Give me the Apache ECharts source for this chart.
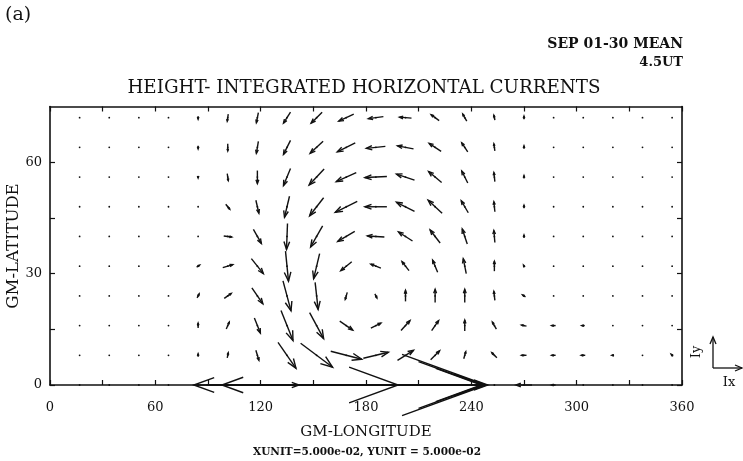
<!DOCTYPE html>
<html>
<head>
<meta charset="utf-8">
<script src="https://cdn.jsdelivr.net/npm/echarts@6/dist/echarts.min.js"></script>
<style>
html,body{margin:0;padding:0;background:#fff;}
#main{width:743px;height:461px;}
</style>
</head>
<body>
<div id="main"></div>
<script>
// ---- data ----
// grid longitudes (deg) of the vector columns
const lonCols = [16.875, 33.75, 50.625, 67.5, 84.375, 101.25, 118.125, 135, 151.875, 168.75,
  185.625, 202.5, 219.375, 236.25, 253.125, 270, 286.875, 303.75, 320.625, 337.5, 354.375];
// grid latitudes (deg) of the vector rows
const latRows = [0, 8, 16, 24, 32, 40, 48, 56, 64, 72];
// eastward component Ix for each row (same order as latRows)
const ixLat0  = [0, 0, 0, 0, 0, -68, -71, 24, 163, 280, 214, 152, 98, 46, 0, -16, -4, 0, 0, 0, 0];
const ixLat8  = [0, 0, 0, 0, 0, 1, 3, 18, 32, 31, 25, 16, 9, 2, -5, -5, -4, -4, -2, 0, -2];
const ixLat16 = [0, 0, 0, 0, 0, 3, 6, 12, 14, 13, 10, 9, 7, 0, -4, -5, -4, -3, 0, 0, 0];
const ixLat24 = [0, 0, 0, 0, 2, 7, 11, 8, 3, -2, 2, 0, 0, 0, -1, -3, 0, 0, 0, 0, 0];
const ixLat32 = [0, 0, 0, 0, 3, 10, 12, 3, -6, -11, -10, -7, -5, -3, 0, -1, 0, 0, 0, 0, 0];
const ixLat40 = [0, 0, 0, 0, 1, 8, 8, -1, -12, -17, -17, -14, -10, -5, -1, 0, 0, 0, 0, 0, 0];
const ixLat48 = [0, 0, 0, 0, 0, 4, 3, -5, -14, -22, -22, -18, -14, -7, -1, 0, 0, 0, 0, 0, 0];
const ixLat56 = [0, 0, 0, 0, 0, 1, 0, -7, -15, -20, -22, -18, -13, -6, -1, 0, 0, 0, 0, 0, 0];
const ixLat64 = [0, 0, 0, 0, 0, 0, -2, -7, -13, -18, -19, -16, -12, -6, -1, 0, 0, 0, 0, 0, 0];
const ixLat72 = [0, 0, 0, 0, 0, -1, -2, -7, -11, -15, -15, -12, -8, -4, -1, 0, 1, 0, 0, 0, 0];
// northward component Iy
const iyLat0  = [0, 0, 0, 0, 0, 0, 0, 0, 0, 0, 0, 0, 0, 0, 0, 0, 0, 0, 0, 0, 0];
const iyLat8  = [0, 0, 0, 0, 3, 5, -10, -26, -24, -8, 6, 10, 9, 7, 5, 0, 0, 0, 0, 0, 2];
const iyLat16 = [0, 0, 0, 0, 5, 7, -15, -30, -26, -9, 5, 10, 10, 11, 7, 1, 0, 0, 0, 0, 0];
const iyLat24 = [0, 0, 0, 0, 4, 5, -16, -30, -27, -7, -4, 11, 13, 13, 9, 2, 0, 0, 0, 0, 0];
const iyLat32 = [0, 0, 0, 0, 2, 3, -15, -30, -25, -9, 4, 9, 12, 15, 10, 2, 0, 0, 0, 0, 0];
const iyLat40 = [0, 0, 0, 0, 0, -1, -14, -26, -21, -10, 1, 9, 13, 15, 12, 3, 0, 0, 0, 0, 0];
const iyLat48 = [0, 0, 0, 0, -1, -5, -13, -21, -18, -11, 0, 9, 13, 12, 10, 3, 0, 0, 0, 0, 0];
const iyLat56 = [0, 0, 0, 0, -2, -7, -13, -17, -16, -9, -1, 6, 11, 12, 9, 3, 0, 0, 0, 0, 0];
const iyLat64 = [0, 0, 0, 0, -3, -7, -12, -14, -12, -9, -2, 3, 8, 9, 7, 3, 0, 0, 0, 0, 0];
const iyLat72 = [0, 0, 0, 0, -3, -7, -10, -11, -11, -7, -2, 1, 6, 7, 5, 3, 1, 0, 0, 0, 0];
const ixRows = [ixLat0, ixLat8, ixLat16, ixLat24, ixLat32, ixLat40, ixLat48, ixLat56, ixLat64, ixLat72];
const iyRows = [iyLat0, iyLat8, iyLat16, iyLat24, iyLat32, iyLat40, iyLat48, iyLat56, iyLat64, iyLat72];
// axis ticks / labels
const xTickValues = [0, 30, 60, 90, 120, 150, 180, 210, 240, 270, 300, 330, 360];
const xLabelValues = [0, 60, 120, 180, 240, 300, 360];
const yTickValues = [0, 15, 30, 45, 60];
const yLabelValues = [0, 30, 60];

// ---- build ----
const PX_PER_UNIT = 1;
const vecData = [];
latRows.forEach((lat, r) => {
  lonCols.forEach((lon, c) => {
    vecData.push([lon, lat, ixRows[r][c], iyRows[r][c]]);
  });
});

const FONT = "'DejaVu Serif', 'Liberation Serif', serif";
const INK = '#111';

function renderArrow(params, api) {
  const c = api.coord([api.value(0), api.value(1)]);
  const dx = api.value(2) * PX_PER_UNIT;
  const dy = -api.value(3) * PX_PER_UNIT;
  const L = Math.hypot(dx, dy);
  const children = [{
    type: 'circle', shape: { cx: c[0], cy: c[1], r: 0.9 }, style: { fill: INK }
  }];
  if (L > 1.5) {
    const x0 = c[0] - dx / 2, y0 = c[1] - dy / 2;
    const x1 = c[0] + dx / 2, y1 = c[1] + dy / 2;
    const h = Math.max(2.2, 0.32 * L);
    const ang = Math.atan2(dy, dx);
    const a = 20 * Math.PI / 180;
    const b1 = [x1 - h * Math.cos(ang - a), y1 - h * Math.sin(ang - a)];
    const b2 = [x1 - h * Math.cos(ang + a), y1 - h * Math.sin(ang + a)];
    children.push({ type: 'polyline', shape: { points: [[x0, y0], [x1, y1]] },
      style: { stroke: INK, lineWidth: 1.4, fill: null } });
    children.push({ type: 'polyline', shape: { points: [b1, [x1, y1], b2] },
      style: { stroke: INK, lineWidth: 1.4, fill: null } });
  }
  return { type: 'group', children };
}

const chart = echarts.init(document.getElementById('main'), null, { renderer: 'canvas' });
const axisLineStyle = { color: INK, width: 1.6 };
chart.setOption({
  backgroundColor: '#fff',
  animation: false,
  grid: { left: 50, right: 61, top: 106.5, bottom: 76, containLabel: false },
  xAxis: [{
    type: 'value', min: 0, max: 360, position: 'bottom',
    axisLine: { show: true, onZero: false, lineStyle: axisLineStyle },
    axisTick: { show: true, inside: true, length: 5, customValues: xTickValues, lineStyle: { color: INK, width: 1.2 } },
    axisLabel: { show: true, customValues: xLabelValues, margin: 16, fontFamily: FONT, fontSize: 13, color: INK },
    splitLine: { show: false }
  }, {
    type: 'value', min: 0, max: 360, position: 'top',
    axisLine: { show: true, onZero: false, lineStyle: axisLineStyle },
    axisTick: { show: true, inside: true, length: 5, customValues: xTickValues, lineStyle: { color: INK, width: 1.2 } },
    axisLabel: { show: false },
    splitLine: { show: false }
  }],
  yAxis: [{
    type: 'value', min: 0, max: 75, position: 'left',
    axisLine: { show: true, onZero: false, lineStyle: axisLineStyle },
    axisTick: { show: true, inside: true, length: 5, customValues: yTickValues, lineStyle: { color: INK, width: 1.2 } },
    axisLabel: { show: true, customValues: yLabelValues, margin: 8, fontFamily: FONT, fontSize: 13, color: INK },
    splitLine: { show: false }
  }, {
    type: 'value', min: 0, max: 75, position: 'right',
    axisLine: { show: true, onZero: false, lineStyle: axisLineStyle },
    axisTick: { show: true, inside: true, length: 5, customValues: yTickValues, lineStyle: { color: INK, width: 1.2 } },
    axisLabel: { show: false },
    splitLine: { show: false }
  }],
  series: [{
    type: 'custom',
    xAxisIndex: 0, yAxisIndex: 0,
    renderItem: renderArrow,
    data: vecData,
    encode: { x: 0, y: 1 },
    clip: false,
    z: 10
  }],
  graphic: [
    { type: 'text', left: 5, top: 6, style: { text: '(a)', font: "19px " + FONT, fill: INK } },
    { type: 'text', x: 683, y: 44, style: { text: 'SEP 01-30 MEAN', align: 'right', verticalAlign: 'middle', font: "bold 14px " + FONT, fill: INK } },
    { type: 'text', x: 683, y: 63, style: { text: '4.5UT', align: 'right', verticalAlign: 'middle', font: "bold 13px " + FONT, fill: INK } },
    { type: 'text', x: 364, y: 88, style: { text: 'HEIGHT- INTEGRATED HORIZONTAL CURRENTS', align: 'center', verticalAlign: 'middle', font: "18.3px " + FONT, fill: INK } },
    { type: 'text', x: 14, y: 246, rotation: Math.PI / 2, style: { text: 'GM-LATITUDE', align: 'center', verticalAlign: 'middle', font: "16.5px " + FONT, fill: INK } },
    { type: 'text', x: 366, y: 432, style: { text: 'GM-LONGITUDE', align: 'center', verticalAlign: 'middle', font: "15px " + FONT, fill: INK } },
    { type: 'text', x: 367, y: 452, style: { text: 'XUNIT=5.000e-02, YUNIT = 5.000e-02', align: 'center', verticalAlign: 'middle', font: "bold 10.5px " + FONT, fill: INK } },
    // unit vector key
    { type: 'polyline', shape: { points: [[713, 368], [713, 337]] }, style: { stroke: INK, lineWidth: 1.3, fill: null } },
    { type: 'polyline', shape: { points: [[710, 344], [713, 337], [716, 344]] }, style: { stroke: INK, lineWidth: 1.3, fill: null } },
    { type: 'polyline', shape: { points: [[713, 368], [742, 368]] }, style: { stroke: INK, lineWidth: 1.3, fill: null } },
    { type: 'polyline', shape: { points: [[735, 365], [742, 368], [735, 371]] }, style: { stroke: INK, lineWidth: 1.3, fill: null } },
    { type: 'text', x: 697, y: 352, rotation: Math.PI / 2, style: { text: 'Iy', align: 'center', verticalAlign: 'middle', font: "13px " + FONT, fill: INK } },
    { type: 'text', x: 729, y: 383, style: { text: 'Ix', align: 'center', verticalAlign: 'middle', font: "13px " + FONT, fill: INK } }
  ]
});
</script>
</body>
</html>
